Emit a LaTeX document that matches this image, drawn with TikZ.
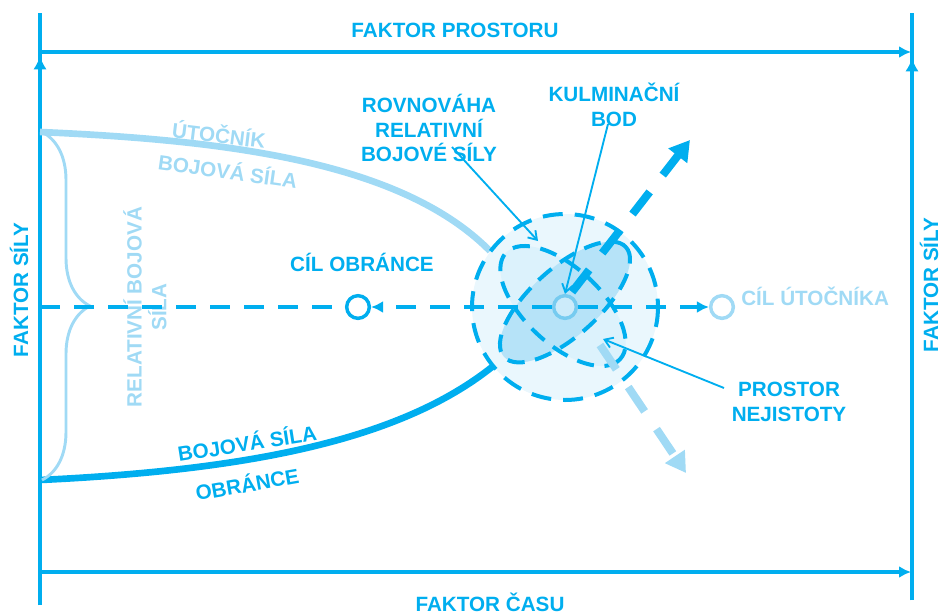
\documentclass[tikz,border=0pt]{standalone}
\usepackage{fontspec}
\setmainfont{Liberation Sans}
\usepackage{tikz}
\usetikzlibrary{arrows.meta,decorations.pathreplacing}
\definecolor{modra}{RGB}{0,174,239}
\definecolor{svetla}{RGB}{160,218,245}
\definecolor{kruh}{RGB}{234,247,253}
\definecolor{elipsa}{RGB}{182,227,248}
\definecolor{elipsab}{RGB}{220,242,252}
\definecolor{stredmodra}{RGB}{118,203,240}

\begin{document}
\begin{tikzpicture}[x=0.75pt, y=-0.75pt,
  popis/.style={font=\bfseries\fontsize{15.5}{18.5}\selectfont, text=modra, align=center, inner sep=0pt},
  ramec/.style={draw=modra, line width=3pt},
  hrot/.style={-{Latex[length=9pt,width=9pt]}},
  carky/.style={line width=3pt, dash pattern=on 15pt off 10.5pt},
  ukazatel/.style={draw=modra, line width=1.4pt, -{Straight Barb[length=6pt,width=8pt]}},
  cil/.style={circle, draw, line width=2.6pt, fill=white, minimum size=17pt, inner sep=0pt}]
\useasboundingbox (0,0) rectangle (943,615);

\coordinate (lh) at (40,13);
\coordinate (ld) at (40,605);
\coordinate (ls) at (40,56);
\coordinate (ph) at (912,13);
\coordinate (pd) at (912,600);
\coordinate (ps) at (912,58);
\draw[ramec] (ld) -- (lh);
\draw[ramec] (pd) -- (ph);
\draw[ramec,-{Latex[length=10pt,width=10pt]}] (ld) -- (ls);
\draw[ramec,-{Latex[length=10pt,width=10pt]}] (pd) -- (ps);
\draw[ramec,hrot] (40,52) -- (911,52);
\draw[ramec,hrot] (40,572) -- (911,572);

\node[popis] (faktorprostoru) at (455,30) {FAKTOR PROSTORU};
\node[popis] (faktorcasu) at (490,602) {FAKTOR ČASU};
\node[popis,rotate=90] (silalevo) at (19,290) {FAKTOR SÍLY};
\node[popis,rotate=90] (silapravo) at (929,285) {FAKTOR SÍLY};

% prostor nejistoty
\coordinate (stredkruhu) at (565,307);
\coordinate (elA) at (565,302);
\coordinate (elB) at (563,306);
\fill[kruh] (stredkruhu) circle (93);
\fill[elipsab, rotate around={-43:(elB)}] (elB) ellipse (78 and 38);
\fill[elipsa, rotate around={42:(elA)}] (elA) ellipse (82 and 34);

% krivky bojove sily
\coordinate (utzac) at (40,132);
\coordinate (utkon) at (490,251);
\coordinate (obrzac) at (40,480);
\coordinate (obrkon) at (492,367);
\draw[svetla, line width=5pt] (utzac) .. controls (220,140) and (400,160) .. (utkon);
\draw[modra, line width=5pt] (obrzac) .. controls (250,470) and (400,440) .. (obrkon);
\draw[svetla, line width=2.2pt, decorate, decoration={brace, amplitude=36pt}] (42,132) -- (42,480);

\node[popis, text=svetla, rotate=-7] (utocnik) at (219,134) {ÚTOČNÍK};
\node[popis, text=svetla, rotate=-8] (utsila) at (228,170) {BOJOVÁ SÍLA};
\node[popis, text=svetla, rotate=90] (relsila) at (145,307) {RELATIVNÍ BOJOVÁ\\SÍLA};
\node[popis, rotate=9] (obrsila) at (247,442) {BOJOVÁ SÍLA};
\node[popis, rotate=10] (obrance) at (247,483) {OBRÁNCE};

% cile
\node[cil, draw=modra] (cilobr) at (358,307) {};
\node[cil, draw=svetla] (cilut) at (722,307) {};
\node[cil, draw=stredmodra, fill=elipsa!70!white] (stred) at (565,307) {};
\coordinate (osa) at (40,307);
\draw[modra, carky] (osa) -- (cilobr);
\draw[modra, carky, hrot] (stred) -- (cilobr);
\draw[modra, carky, hrot] (stred) -- (cilut);
\node[popis] (txtcilobr) at (362,262) {CÍL OBRÁNCE};
\node[popis, text=svetla, anchor=west] (txtcilut) at (741,296) {CÍL ÚTOČNÍKA};

\draw[modra, line width=3pt, dash pattern=on 13pt off 8pt, rotate around={-43:(elB)}] (elB) ellipse (78 and 38);
\draw[modra, line width=3pt, dash pattern=on 13pt off 8pt, rotate around={42:(elA)}] (elA) ellipse (82 and 34);
\draw[modra, line width=3pt, dash pattern=on 15pt off 9pt] (stredkruhu) circle (93);

% smery vyvoje
\coordinate (nahoruzac) at (572,292);
\coordinate (nahorukon) at (690,140);
\coordinate (doluzac) at (600,345);
\coordinate (dolukon) at (686,473);
\draw[modra, line width=6pt, dash pattern=on 21pt off 16pt, -{Triangle[length=15pt,width=17pt]}] (nahoruzac) -- (nahorukon);
\draw[svetla, line width=6pt, dash pattern=on 22pt off 16pt, -{Triangle[length=15pt,width=17pt]}] (doluzac) -- (dolukon);

% popisky s ukazateli
\node[popis] (rovnovaha) at (429,128) {ROVNOVÁHA\\RELATIVNÍ\\BOJOVÉ SÍLY};
\node[popis] (kulminace) at (614,105) {KULMINAČNÍ\\BOD};
\node[popis] (nejistota) at (789,402) {PROSTOR\\NEJISTOTY};
\coordinate (rovzac) at (452,147);
\coordinate (rovkon) at (538,241);
\coordinate (kulzac) at (608,124);
\coordinate (nejzac) at (724,388);
\coordinate (nejkon) at (603,339);
\draw[ukazatel] (rovzac) -- (rovkon);
\draw[ukazatel] (kulzac) -- (stred.north);
\draw[ukazatel] (nejzac) -- (nejkon);

\end{tikzpicture}
\end{document}
